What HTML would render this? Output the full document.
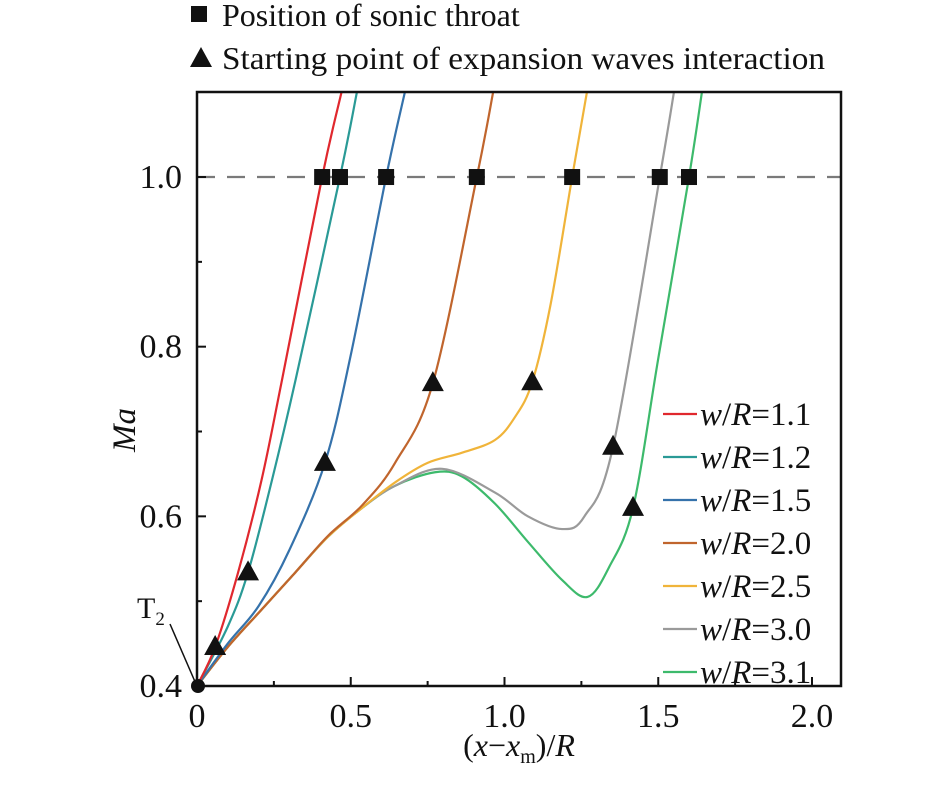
<!DOCTYPE html>
<html><head><meta charset="utf-8"><style>
html,body{margin:0;padding:0;background:#fff;}
svg text{font-family:"Liberation Serif",serif;fill:#111;}
</style></head><body>
<svg id="chart" width="945" height="780" xmlns="http://www.w3.org/2000/svg"></svg>
<script>
const seriesNames=["w/R=1.1","w/R=1.2","w/R=1.5","w/R=2.0","w/R=2.5","w/R=3.0","w/R=3.1"];
const seriesColors=["#e0282e","#2a9a96","#3572ab","#c0652d","#f0b43a","#9a9a9a","#3dba6c"];
const xRed=[0,0.059,0.133,0.21,0.276,0.407,0.47];
const yRed=[0.4,0.446,0.533,0.643,0.76,1.0,1.1];
const xTeal=[0,0.1,0.166,0.244,0.32,0.465,0.52];
const yTeal=[0.4,0.47,0.534,0.643,0.76,1.0,1.1];
const xBlue=[0,0.1,0.2,0.3,0.416,0.5,0.615,0.676];
const yBlue=[0.4,0.45,0.494,0.56,0.663,0.79,1.0,1.1];
const xOrange=[0,0.1,0.21,0.32,0.426,0.537,0.644,0.767,0.91,0.963];
const yOrange=[0.4,0.446,0.49,0.534,0.577,0.613,0.663,0.757,1.0,1.1];
const xYellow=[0,0.1,0.21,0.32,0.426,0.537,0.644,0.75,0.862,0.969,1.034,1.09,1.15,1.22,1.268];
const yYellow=[0.4,0.446,0.49,0.534,0.576,0.61,0.64,0.663,0.675,0.69,0.717,0.758,0.85,1.0,1.1];
const xGray=[0,0.1,0.21,0.32,0.426,0.537,0.644,0.797,0.969,1.076,1.187,1.26,1.353,1.505,1.551];
const yGray=[0.4,0.446,0.49,0.534,0.576,0.61,0.636,0.656,0.628,0.6,0.585,0.6,0.682,1.0,1.1];
const xGreen=[0,0.1,0.21,0.32,0.426,0.537,0.644,0.774,0.862,0.969,1.076,1.187,1.27,1.34,1.418,1.5,1.6,1.642];
const yGreen=[0.4,0.446,0.49,0.534,0.576,0.61,0.636,0.652,0.647,0.615,0.57,0.525,0.505,0.54,0.61,0.786,1.0,1.1];
const throatX=[0.407,0.465,0.615,0.91,1.22,1.505,1.6];
const throatY=[1.0,1.0,1.0,1.0,1.0,1.0,1.0];
const triX=[0.059,0.166,0.416,0.767,1.09,1.353,1.418];
const triY=[0.446,0.534,0.663,0.757,0.758,0.682,0.61];
const xTicks=[0,0.5,1.0,1.5,2.0];
const xTickLabels=["0","0.5","1.0","1.5","2.0"];
const xMinor=[0.25,0.75,1.25,1.75];
const yTicks=[0.4,0.6,0.8,1.0];
const yTickLabels=["0.4","0.6","0.8","1.0"];
const yMinor=[0.5,0.7,0.9];

const L=197,R=841,T=92,B=686;
const X=v=>L+v*307.5;
const Y=v=>B-(v-0.4)*848.3;
const NS="http://www.w3.org/2000/svg";
const svg=document.getElementById('chart');
function mk(tag,attrs,parent){const e=document.createElementNS(NS,tag);for(const k in attrs)e.setAttribute(k,attrs[k]);(parent||svg).appendChild(e);return e;}
function pathFrom(xs,ys){
  const p=xs.map((x,i)=>[X(x),Y(ys[i])]);
  let d=`M${p[0][0]},${p[0][1]}`;
  for(let i=0;i<p.length-1;i++){
    const p0=p[Math.max(0,i-1)],p1=p[i],p2=p[i+1],p3=p[Math.min(p.length-1,i+2)];
    const c1=[p1[0]+(p2[0]-p0[0])/6,p1[1]+(p2[1]-p0[1])/6];
    const c2=[p2[0]-(p3[0]-p1[0])/6,p2[1]-(p3[1]-p1[1])/6];
    d+=` C${c1[0]},${c1[1]} ${c2[0]},${c2[1]} ${p2[0]},${p2[1]}`;
  }
  return d;
}
const clip=mk('clipPath',{id:'pc'});mk('rect',{x:L,y:T,width:R-L,height:B-T},clip);

const dash=mk('line',{x1:L,x2:R,y1:Y(1.0),y2:Y(1.0),stroke:'#7a7a7a',"stroke-width":2.2,"stroke-dasharray":"18,12"});



const xsAll=[xRed,xTeal,xBlue,xOrange,xYellow,xGray,xGreen];
const ysAll=[yRed,yTeal,yBlue,yOrange,yYellow,yGray,yGreen];
for(let s=xsAll.length-1;s>=0;s--){
  const p=mk('path',{d:pathFrom(xsAll[s],ysAll[s]),fill:'none',stroke:seriesColors[s],"stroke-width":2.2,"clip-path":"url(#pc)"});
  
  
}
const frame=mk('rect',{x:L,y:T,width:R-L,height:B-T,fill:'none',stroke:'#111',"stroke-width":2.5});


xTicks.forEach((v,i)=>{
  mk('line',{x1:X(v),x2:X(v),y1:B,y2:B-9,stroke:'#111',"stroke-width":2});
  const t=mk('text',{x:X(v),y:B+41,"font-size":34,"text-anchor":"middle"});t.textContent=xTickLabels[i];
  
  
});
xMinor.forEach(v=>mk('line',{x1:X(v),x2:X(v),y1:B,y2:B-5,stroke:'#111',"stroke-width":2}));
yTicks.forEach((v,i)=>{
  mk('line',{x1:L,x2:L+9,y1:Y(v),y2:Y(v),stroke:'#111',"stroke-width":2});
  const t=mk('text',{x:L-15,y:Y(v)+11,"font-size":34,"text-anchor":"end"});t.textContent=yTickLabels[i];
  
  
});
yMinor.forEach(v=>mk('line',{x1:L,x2:L+5,y1:Y(v),y2:Y(v),stroke:'#111',"stroke-width":2}));

throatX.forEach((v,i)=>{
  const r=mk('rect',{x:X(v)-8,y:Y(throatY[i])-8,width:16,height:16,fill:'#111'});
  
  
});
triX.forEach((v,i)=>{
  const cx=X(v),cy=Y(triY[i]);
  const t=mk('polygon',{points:`${cx},${cy-12} ${cx-11},${cy+8} ${cx+11},${cy+8}`,fill:'#111'});
  
  
});
</script>
<svg style="position:absolute;left:0;top:0" width="945" height="780">
  <g>
    <rect x="191" y="6" width="16" height="16" fill="#111"/>
    <text x="222" y="26" font-size="32" font-family="Liberation Serif, serif" fill="#111">Position of sonic throat</text>
    <polygon points="201,47 190,67 212,67" fill="#111"/>
    <text x="222" y="69" font-size="32" font-family="Liberation Serif, serif" fill="#111" textLength="603" lengthAdjust="spacingAndGlyphs">Starting point of expansion waves interaction</text>
  </g>
  <g font-family="Liberation Serif, serif" font-size="33" fill="#111">
    <line x1="663" x2="697" y1="414" y2="414" stroke="#e0282e" stroke-width="2.2"/><text x="700" y="425"><tspan font-style="italic">w</tspan>/<tspan font-style="italic">R</tspan>=1.1</text>
    <line x1="663" x2="697" y1="457" y2="457" stroke="#2a9a96" stroke-width="2.2"/><text x="700" y="468"><tspan font-style="italic">w</tspan>/<tspan font-style="italic">R</tspan>=1.2</text>
    <line x1="663" x2="697" y1="500" y2="500" stroke="#3572ab" stroke-width="2.2"/><text x="700" y="511"><tspan font-style="italic">w</tspan>/<tspan font-style="italic">R</tspan>=1.5</text>
    <line x1="663" x2="697" y1="543" y2="543" stroke="#c0652d" stroke-width="2.2"/><text x="700" y="554"><tspan font-style="italic">w</tspan>/<tspan font-style="italic">R</tspan>=2.0</text>
    <line x1="663" x2="697" y1="586" y2="586" stroke="#f0b43a" stroke-width="2.2"/><text x="700" y="597"><tspan font-style="italic">w</tspan>/<tspan font-style="italic">R</tspan>=2.5</text>
    <line x1="663" x2="697" y1="629" y2="629" stroke="#9a9a9a" stroke-width="2.2"/><text x="700" y="640"><tspan font-style="italic">w</tspan>/<tspan font-style="italic">R</tspan>=3.0</text>
    <line x1="663" x2="697" y1="672" y2="672" stroke="#3dba6c" stroke-width="2.2"/><text x="700" y="683"><tspan font-style="italic">w</tspan>/<tspan font-style="italic">R</tspan>=3.1</text>
  </g>
  <text x="0" y="0" transform="translate(135,430) rotate(-90)" text-anchor="middle" font-size="33" font-style="italic" font-family="Liberation Serif, serif" fill="#111">Ma</text>
  <text x="519" y="756" text-anchor="middle" font-size="32" font-family="Liberation Serif, serif" fill="#111">(<tspan font-style="italic">x</tspan>−<tspan font-style="italic">x</tspan><tspan font-size="20" dy="7">m</tspan><tspan dy="-7">)/</tspan><tspan font-style="italic">R</tspan></text>
  <g>
    <text x="137" y="618" font-size="30" font-family="Liberation Serif, serif" fill="#111">T<tspan font-size="19" dy="7">2</tspan></text>
    <line x1="170" y1="624" x2="196" y2="684" stroke="#111" stroke-width="1.5"/>
    <circle cx="198" cy="686" r="7" fill="#111"/>
  </g>
</svg>
</body></html>
